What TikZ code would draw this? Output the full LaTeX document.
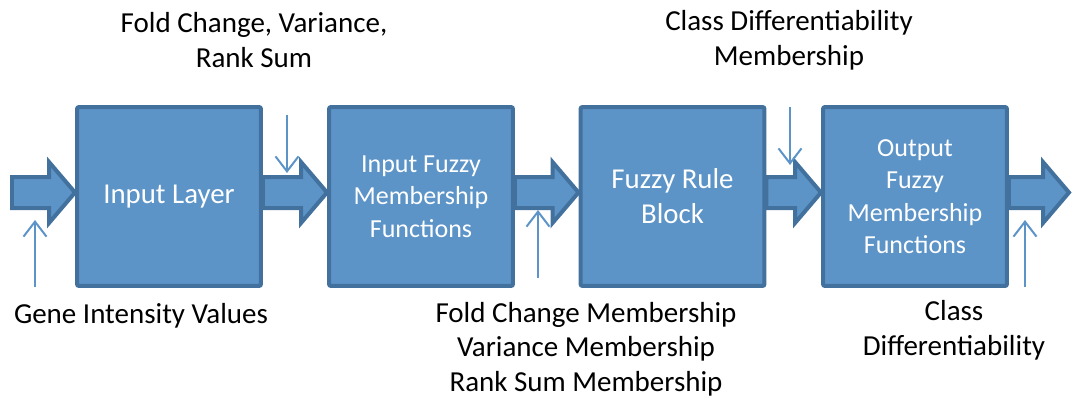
\documentclass[tikz,border=0pt]{standalone}
\usepackage{fontspec}
\setmainfont{Carlito}
\usetikzlibrary{calc,arrows.meta}

\definecolor{blockfill}{RGB}{93,148,200}
\definecolor{blockline}{RGB}{66,113,157}

% wide block arrow along a horizontal centre line, tail #1, tip #2
\newcommand{\fatarrow}[2]{%
  \draw[flow] ($(#1)+(0,-15.5)$) -- ($(#2)+(-26,-15.5)$) -- ($(#2)+(-26,-30.5)$)
    -- (#2) -- ($(#2)+(-26,30.5)$) -- ($(#2)+(-26,15.5)$) -- ($(#1)+(0,15.5)$) -- cycle;}

\begin{document}
\begin{tikzpicture}[
    x=0.02cm, y=-0.02cm,
    stage/.style={rectangle, draw=blockline, fill=blockfill, line width=0.08cm, rounded corners=0.04cm,
      minimum width=3.68cm, minimum height=3.58cm, text=white, align=center},
    bigstage/.style={stage, font=\fontsize{16.4}{19.9}\selectfont},
    smallstage/.style={stage, font=\fontsize{14.8}{18.5}\selectfont},
    flow/.style={draw=blockline, fill=blockfill, line width=0.08cm, line join=miter},
    feed/.style={-{Straight Barb[length=0.3cm,width=0.46cm]}, draw=blockfill, line width=0.04cm},
    note/.style={align=center, anchor=base, inner sep=0pt, font=\fontsize{16.5}{19.4}\selectfont}
]
\useasboundingbox (0,0) rectangle (1073,403);

% Stages
\node[bigstage] (input) at (169,196.5) {Input Layer};
\node[smallstage] (memin) at (421,196.5) {Input Fuzzy\\Membership\\Functions};
\node[bigstage] (rules) at (672.5,196.5) {Fuzzy Rule\\Block};
\node[smallstage] (memout) at (915,196.5) {Output\\Fuzzy\\Membership\\Functions};

% Flow between stages
\coordinate (src) at (12,192.5);
\coordinate (dst) at (1069,192.5);
\fatarrow{src}{input.west |- src}
\fatarrow{input.east |- src}{memin.west |- src}
\fatarrow{memin.east |- src}{rules.west |- src}
\fatarrow{rules.east |- src}{memout.west |- src}
\fatarrow{memout.east |- src}{dst}

% Side inputs
\coordinate (gene0) at (35,287);
\coordinate (gene1) at (35,220);
\coordinate (stat0) at (287,115);
\coordinate (stat1) at (287,173);
\coordinate (mem0) at (538,278);
\coordinate (mem1) at (538,210);
\coordinate (cmem0) at (790,107);
\coordinate (cmem1) at (790,165);
\coordinate (cls0) at (1025,287);
\coordinate (cls1) at (1025,220);
\draw[feed] (gene0) -- (gene1);
\draw[feed] (stat0) -- (stat1);
\draw[feed] (mem0) -- (mem1);
\draw[feed] (cmem0) -- (cmem1);
\draw[feed] (cls0) -- (cls1);

% Labels (base = last line)
\node[note] (stats) at (254,67) {Fold Change, Variance,\\Rank Sum};
\node[note] (classmem) at (789,65) {Class Differentiability\\Membership};
\node[note] (gene) at (141,323) {Gene Intensity Values};
\node[note] (members) at (586,391) {Fold Change Membership\\Variance Membership\\Rank Sum Membership};
\node[note] (class) at (954,355) {Class\\Differentiability};
\end{tikzpicture}
\end{document}
